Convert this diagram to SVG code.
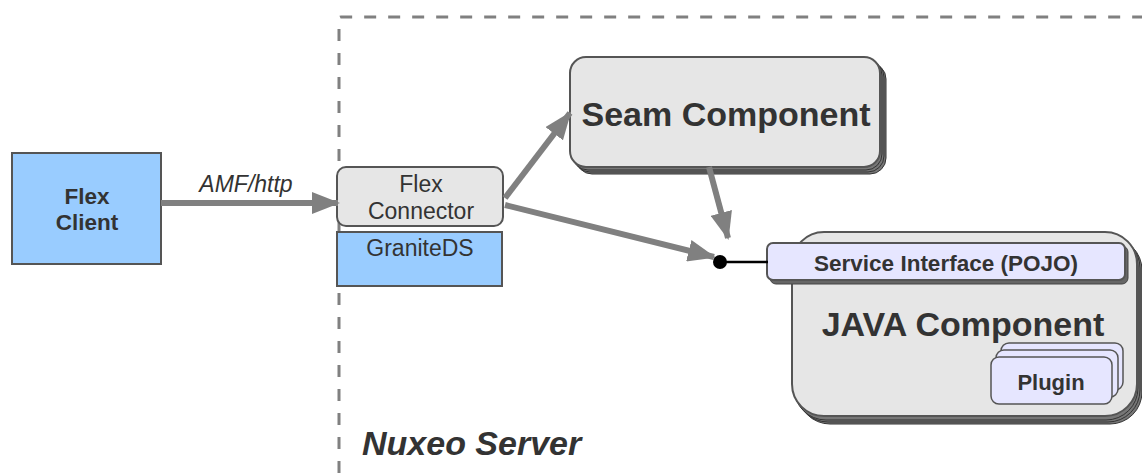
<svg xmlns="http://www.w3.org/2000/svg" width="1142" height="473" viewBox="0 0 1142 473">
<defs>
<style>
.t{font-family:"Liberation Sans",Arial,sans-serif;fill:#333;text-anchor:middle}
.b{font-weight:bold}
.box{stroke:#555;stroke-width:2}
.sh{fill:#777;stroke:#333;stroke-width:1}
.con{stroke:#808080;stroke-width:6;fill:none}
</style>
<marker id="ah" markerUnits="userSpaceOnUse" markerWidth="28" markerHeight="22" refX="26" refY="11" orient="auto">
<path d="M0,0 L28,11 L0,22 Z" fill="#808080"/>
</marker>
</defs>
<rect width="1142" height="473" fill="#fff"/>
<g id="nuxeo-server">
<path d="M339,473 L339,19 Q339,17 341,17 L1142,17" fill="none" stroke="#808080" stroke-width="3" stroke-dasharray="12,12"/>
<text class="t b" x="362" y="455" font-size="34" font-style="italic" style="text-anchor:start">Nuxeo Server</text>
</g>
<g id="flex-client">
<rect class="box" x="12" y="153" width="149" height="111" fill="#99ccff"/>
<text class="t b" x="87" y="204" font-size="22.5">Flex</text>
<text class="t b" x="87" y="230" font-size="22.5">Client</text>
</g>
<g id="seam-component">
<rect class="sh" x="576" y="63" width="310" height="111" rx="16"/>
<rect class="sh" x="574" y="61" width="310" height="111" rx="16"/>
<rect class="sh" x="572" y="59" width="310" height="111" rx="16"/>
<rect class="box" x="570" y="57" width="310" height="110" rx="16" fill="#e6e6e6"/>
<text class="t b" x="726" y="126" font-size="34">Seam Component</text>
</g>
<g id="java-component">
<rect class="sh" x="798" y="238" width="344" height="186" rx="32"/>
<rect class="sh" x="796" y="236" width="344" height="186" rx="32"/>
<rect class="sh" x="794" y="234" width="344" height="186" rx="32"/>
<rect class="box" x="792" y="232" width="345" height="184" rx="32" fill="#e6e6e6"/>
<text class="t b" x="963" y="336" font-size="34">JAVA Component</text>
</g>
<g id="service-interface">
<rect x="770" y="246" width="358" height="38" rx="6" fill="#666" stroke="#444"/>
<rect class="box" x="767" y="243" width="358" height="37" rx="6" fill="#e6e6ff"/>
<text class="t b" x="946" y="271" font-size="22.5">Service Interface (POJO)</text>
</g>
<g id="plugin">
<rect x="1001" y="343" width="122" height="47" rx="8" fill="#e6e6ff" stroke="#555" stroke-width="1.5"/>
<rect x="996" y="350" width="122" height="47" rx="8" fill="#e6e6ff" stroke="#555" stroke-width="1.5"/>
<rect x="991" y="357" width="121" height="47" rx="8" fill="#e6e6ff" stroke="#555" stroke-width="1.5"/>
<text class="t b" x="1051" y="390" font-size="22">Plugin</text>
</g>
<g id="flex-connector">
<rect class="box" x="337" y="167" width="166" height="59" rx="9" fill="#e6e6e6"/>
<text class="t" x="421" y="192" font-size="23" fill="#444">Flex</text>
<text class="t" x="421" y="219" font-size="23" fill="#444">Connector</text>
</g>
<g id="graniteds">
<rect class="box" x="337" y="232" width="165" height="54" fill="#99ccff"/>
<text class="t" x="420" y="256" font-size="23" fill="#444">GraniteDS</text>
</g>
<g id="connectors">
<line class="con" x1="161" y1="203" x2="338" y2="203" marker-end="url(#ah)"/>
<text class="t" x="246" y="192" font-size="23" font-style="italic">AMF/http</text>
<line class="con" x1="505" y1="198" x2="570" y2="113" marker-end="url(#ah)"/>
<line class="con" x1="505" y1="205" x2="714" y2="257" marker-end="url(#ah)"/>
<line class="con" x1="709" y1="167" x2="728" y2="238" marker-end="url(#ah)"/>
<line x1="720" y1="262" x2="768" y2="262" stroke="#000" stroke-width="2.5"/>
<circle cx="720" cy="262" r="7" fill="#000"/>
</g>
</svg>
